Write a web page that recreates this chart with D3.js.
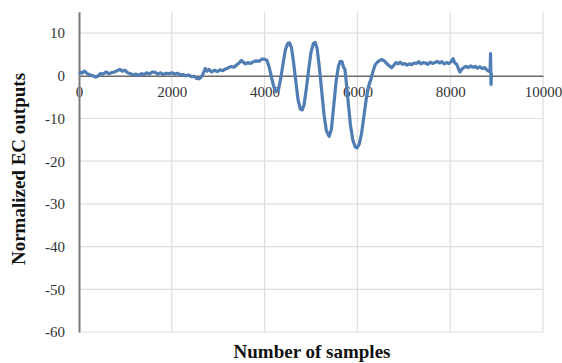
<!DOCTYPE html>
<html>
<head>
<meta charset="utf-8">
<script src="https://cdn.jsdelivr.net/npm/d3@7"></script>
<style>
  html, body { margin: 0; padding: 0; background: #fff; }
  svg { display: block; }
</style>
</head>
<body>
<svg id="chart" width="562" height="363"></svg>
<script>
// Sample index of each reading
const sampleIdx = [
  0, 60, 120, 180, 240, 300, 360, 400, 460, 520, 580, 640, 700, 760, 820, 880, 930, 990,
  1050, 1110, 1170, 1230, 1290, 1350, 1410, 1460, 1520, 1580, 1640, 1700, 1760, 1820, 1880, 1940,
  2000, 2060, 2120, 2180, 2240, 2300, 2360, 2420, 2480, 2540, 2590, 2640, 2680, 2720, 2760, 2800,
  2860, 2920, 2980, 3040, 3100, 3160, 3220, 3280, 3340, 3400, 3450, 3500, 3540, 3590, 3640, 3700,
  3760, 3820, 3880, 3940, 4000, 4050, 4100, 4150, 4200, 4250, 4300, 4350, 4400, 4450, 4500, 4540,
  4580, 4620, 4670, 4720, 4770, 4810, 4850, 4900, 4950, 5000, 5050, 5090, 5130, 5180, 5230, 5280,
  5330, 5390, 5440, 5490, 5540, 5590, 5630, 5670, 5700, 5730, 5760, 5800, 5850, 5900, 5950, 5990,
  6040, 6090, 6140, 6190, 6240, 6290, 6330, 6380, 6430, 6480, 6530, 6580, 6620, 6660, 6700, 6740,
  6780, 6830, 6880, 6920, 6970, 7020, 7070, 7120, 7170, 7220, 7270, 7320, 7370, 7420, 7470, 7520,
  7570, 7620, 7670, 7720, 7770, 7820, 7870, 7920, 7970, 8020, 8060, 8100, 8140, 8180, 8210, 8250,
  8290, 8340, 8390, 8440, 8490, 8540, 8590, 8640, 8690, 8740, 8790, 8830, 8860, 8870, 8880, 8890
];

// Normalized EC output at each sample
const ecOutput = [
  1.0, 0.6, 1.1, 0.5, 0.2, 0.0, -0.3, -0.1, 0.5, 0.4, 0.9, 0.5, 0.7, 0.9, 1.2, 1.5, 1.1, 1.3,
  0.7, 0.5, 0.2, 0.4, 0.1, 0.5, 0.3, 0.7, 0.4, 0.9, 0.8, 0.4, 0.7, 0.3, 0.6, 0.5,
  0.7, 0.4, 0.6, 0.2, 0.3, 0.0, 0.2, -0.2, -0.1, -0.6, -0.7, -0.2, 0.6, 1.7, 1.1, 1.5,
  0.9, 1.3, 1.0, 1.4, 1.2, 1.6, 1.9, 2.2, 2.0, 2.6, 3.0, 3.6, 3.2, 2.8, 3.1, 2.9,
  3.3, 3.5, 3.4, 3.9, 3.9, 3.6, 2.0, -0.5, -2.6, -3.7, -3.2, -0.5, 3.0, 6.2, 7.6, 7.7,
  6.5, 3.5, -1.0, -5.5, -7.8, -8.0, -6.8, -3.0, 1.5, 5.5, 7.6, 7.8, 6.5, 2.0, -3.5, -9.0,
  -12.8, -14.2, -12.5, -7.0, -1.5, 2.2, 3.4, 3.3, 2.0, 1.6, -1.5, -6.0, -11.5, -15.0, -16.6, -16.9,
  -16.0, -13.5, -9.5, -5.5, -2.5, -0.8, 0.8, 2.5, 3.2, 3.6, 3.8, 3.5, 3.0, 2.6, 2.2, 1.9,
  2.4, 3.1, 2.8, 3.2, 2.7, 2.9, 2.5, 2.8, 2.6, 3.0, 2.9, 3.3, 2.8, 3.1, 3.0, 2.7,
  3.2, 2.9, 3.1, 3.4, 3.0, 3.3, 2.8, 3.1, 2.9, 3.3, 4.0, 3.0, 2.7, 1.6, 0.9, 1.5,
  1.9, 2.2, 1.9, 2.3, 2.0, 2.2, 1.8, 2.1, 1.7, 1.9, 1.4, 1.1, 1.2, 5.2, -2.0, 0.6
];

const xTicks = [0, 2000, 4000, 6000, 8000, 10000];
const yTicks = [10, 0, -10, -20, -30, -40, -50, -60];

const xTitle = "Number of samples";
const yTitle = "Normalized EC outputs";

const svg = d3.select("#chart");
const font = "'Liberation Serif', 'Times New Roman', serif";

const left = 79, right = 543, bottom = 332;
const x = d3.scaleLinear().domain([0, 10000]).range([left, right]);
const y = d3.scaleLinear().domain([-60, 15]).range([bottom, bottom - 75 * 4.27]);

// Plain hyphen-minus for negative tick labels
const plainFormat = d => String(d);

// Horizontal gridlines (the zero line is drawn as the category axis)
svg.append("g")
  .selectAll("line")
  .data(yTicks.filter(d => d !== 0))
  .join("line")
  .attr("x1", left).attr("x2", right)
  .attr("y1", d => y(d)).attr("y2", d => y(d))
  .attr("stroke", "#dedede").attr("stroke-width", 1.2);

// Vertical gridlines
svg.append("g")
  .selectAll("line")
  .data(xTicks.filter(d => d !== 0))
  .join("line")
  .attr("x1", d => x(d)).attr("x2", d => x(d))
  .attr("y1", y(15)).attr("y2", bottom)
  .attr("stroke", "#dedede").attr("stroke-width", 1.2);

// Horizontal axis at zero with tick labels below it
const xAxis = d3.axisBottom(x).tickValues(xTicks).tickSize(0).tickPadding(0).tickFormat(plainFormat);
const gx = svg.append("g").attr("transform", `translate(0,${y(0)})`).call(xAxis);
gx.select(".domain").attr("stroke", "#6a6a6a").attr("stroke-width", 1.6);
gx.selectAll("text")
  .attr("dy", null).attr("y", 21)
  .attr("font-family", font).attr("font-size", 15).attr("fill", "#333");

// Vertical axis
const yAxis = d3.axisLeft(y).tickValues(yTicks).tickSize(0).tickPadding(14).tickFormat(plainFormat);
const gy = svg.append("g").attr("transform", `translate(${left},0)`).call(yAxis);
gy.select(".domain").attr("stroke", "#7a7a7a").attr("stroke-width", 2);
gy.selectAll("text")
  .attr("font-family", font).attr("font-size", 15).attr("fill", "#333");

// Signal trace
const line = d3.line()
  .x((d, i) => x(sampleIdx[i]))
  .y(d => y(d));
svg.append("path")
  .datum(ecOutput)
  .attr("d", line)
  .attr("fill", "none")
  .attr("stroke", "#4f7db4")
  .attr("stroke-width", 3.2)
  .attr("stroke-linejoin", "round");

// Axis titles
svg.append("text")
  .attr("x", 312).attr("y", 358)
  .attr("text-anchor", "middle")
  .attr("font-family", font).attr("font-weight", "bold").attr("font-size", 19)
  .attr("fill", "#111")
  .text(xTitle);

svg.append("text")
  .attr("transform", "translate(25,169) rotate(-90)")
  .attr("text-anchor", "middle")
  .attr("font-family", font).attr("font-weight", "bold").attr("font-size", 19)
  .attr("fill", "#111")
  .text(yTitle);
</script>
</body>
</html>
